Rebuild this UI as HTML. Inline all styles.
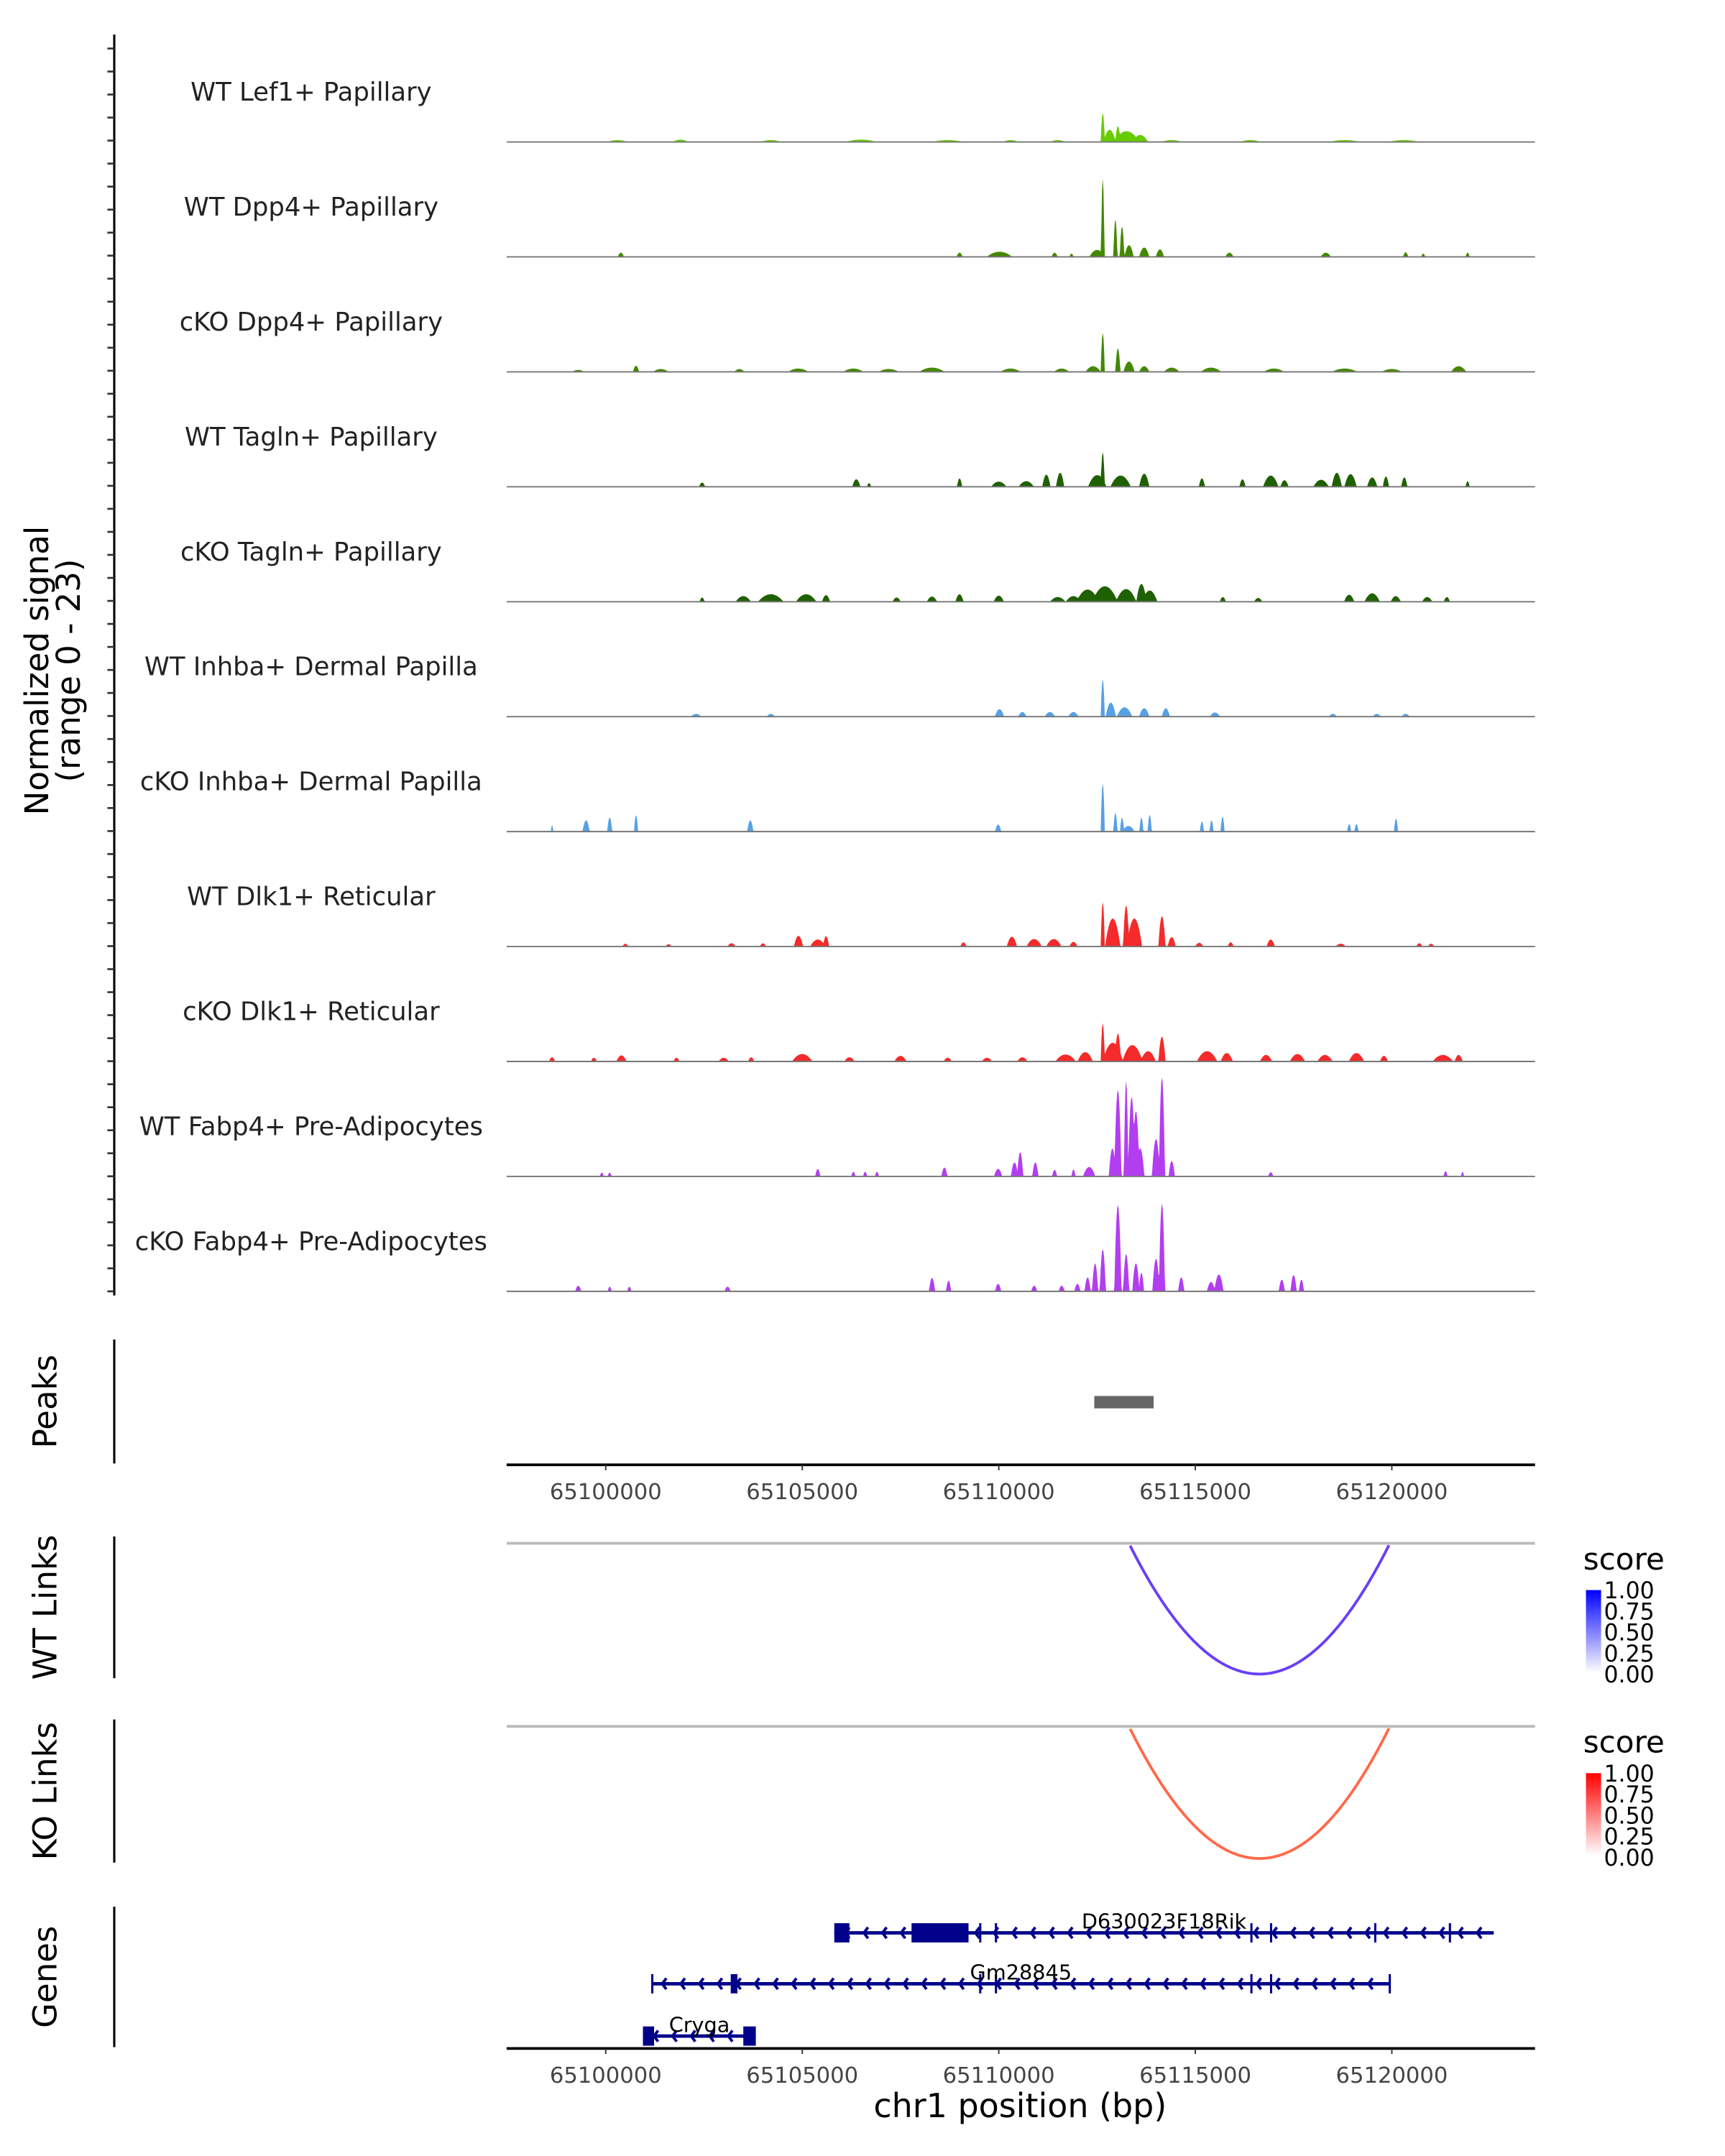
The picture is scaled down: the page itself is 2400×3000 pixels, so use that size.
<!DOCTYPE html>
<html><head><meta charset="utf-8">
<style>
html,body{margin:0;padding:0;background:#fff;}
svg{display:block;}
text{font-family:"DejaVu Sans","Liberation Sans",sans-serif;}
</style></head>
<body>
<svg id="chart" width="2400" height="3000" viewBox="0 0 1253 1566" xmlns="http://www.w3.org/2000/svg">
<g id="tracks"></g>
<g id="peaks"></g>
<g id="links"></g>
<g id="genes"></g>
</svg>
<script>
// ---------- data ----------
const trackNames = ["WT Lef1+ Papillary","WT Dpp4+ Papillary","cKO Dpp4+ Papillary","WT Tagln+ Papillary","cKO Tagln+ Papillary","WT Inhba+ Dermal Papilla","cKO Inhba+ Dermal Papilla","WT Dlk1+ Reticular","cKO Dlk1+ Reticular","WT Fabp4+ Pre-Adipocytes","cKO Fabp4+ Pre-Adipocytes"];
const trackColors = ["#66cc00","#448800","#448800","#1f6100","#1f6100","#56a0e6","#56a0e6","#f52a2a","#f52a2a","#b23ef0","#b23ef0"];
const axisTicks = [65100000,65105000,65110000,65115000,65120000];
const regionStart = 65097478, regionEnd = 65123643;
const signalMax = 23;
// peaks per track: [position bp, height (0-23), half-width bp]
const sig0 = [[65112645,6.2,40],[65112820,2.6,120],[65113030,3.4,50],[65113250,2.3,250],[65113600,1.5,150],[65100300,0.4,200],[65101900,0.5,150],[65104200,0.4,200],[65106500,0.5,300],[65108700,0.4,300],[65110300,0.4,150],[65111500,0.4,150],[65114400,0.4,200],[65116400,0.4,200],[65118800,0.4,300],[65120300,0.4,300]];
const sig1 = [[65112645,16.8,35],[65112967,8,40],[65113136,6.5,45],[65113314,2.5,90],[65113700,2,100],[65114100,1.6,80],[65112500,1.5,150],[65100385,0.9,60],[65109002,0.9,60],[65110018,1.1,250],[65111420,0.9,60],[65111850,0.7,40],[65115868,0.9,80],[65118320,0.9,100],[65120352,1,50],[65120800,0.7,40],[65121928,0.9,40]];
const sig2 = [[65112645,8.3,40],[65113030,5,50],[65113314,2.2,110],[65113700,1.2,100],[65112400,1.2,150],[65099300,0.4,120],[65100771,1.3,60],[65101400,0.6,150],[65103400,0.6,100],[65104900,0.7,200],[65106300,0.7,200],[65107200,0.6,200],[65108300,0.9,250],[65110300,0.7,200],[65111600,0.7,150],[65114400,0.9,150],[65115400,0.9,200],[65117000,0.7,200],[65118800,0.7,250],[65120000,0.6,200],[65121700,1.2,150]];
const sig3 = [[65112645,7.4,40],[65112505,2.5,180],[65113100,2.4,200],[65113700,2.8,100],[65102452,0.9,60],[65106375,1.6,80],[65106700,0.8,40],[65109002,1.8,50],[65110000,1.1,150],[65110700,1.2,150],[65111210,2.6,80],[65111560,3,80],[65115168,1.8,60],[65116200,1.6,60],[65116919,2.4,150],[65117269,1.4,80],[65118200,1.5,150],[65118600,3,100],[65118950,2.7,120],[65119500,2,100],[65119850,2.2,60],[65120317,2,60],[65121928,1.2,40]];
const sig4 = [[65112260,2.6,220],[65112700,3.3,250],[65113240,2.7,200],[65113629,3.8,100],[65113840,2.4,150],[65111900,1.2,150],[65111500,1,150],[65102452,0.9,50],[65103500,1.2,150],[65104200,1.6,250],[65105100,1.6,200],[65105605,1.4,80],[65107400,0.9,80],[65108300,1.1,100],[65109000,1.6,80],[65110000,1.3,100],[65115700,1,60],[65116600,0.8,80],[65118915,1.5,100],[65119500,1.8,150],[65120100,1.2,100],[65120900,1,100],[65121400,1,60]];
const sig5 = [[65112645,8,40],[65112850,3,100],[65113200,2,150],[65113700,1.8,100],[65114250,1.8,80],[65102300,0.6,100],[65104200,0.6,80],[65110018,1.6,90],[65110600,1,80],[65111300,1,100],[65111900,1,100],[65115500,0.9,100],[65118500,0.6,80],[65119617,0.6,80],[65120352,0.6,80]];
const sig6 = [[65112645,10.3,40],[65112967,4,40],[65113136,3,40],[65113629,3,40],[65113840,3.6,40],[65113300,1.2,120],[65115168,2.2,40],[65115413,2.4,40],[65115693,3.2,40],[65098634,1.5,20],[65099500,2.4,70],[65100100,3,50],[65100771,3.5,40],[65103678,2.4,60],[65109983,1.5,60],[65118915,1.6,40],[65119100,1.6,40],[65120107,2.8,40]];
const sig7 = [[65112645,9.5,40],[65112900,6,150],[65113240,8.8,60],[65113450,6,150],[65114151,6.5,70],[65114400,2,80],[65100500,0.6,60],[65101600,0.5,60],[65103200,0.7,80],[65104000,0.7,60],[65104904,2.3,90],[65105395,1.5,150],[65105605,2.2,60],[65109100,0.9,60],[65110334,2.1,100],[65110900,1.6,150],[65111400,1.6,150],[65111900,1,80],[65115100,0.8,80],[65115900,0.9,60],[65116919,1.5,80],[65118700,0.6,100],[65120700,0.7,60],[65121000,0.6,60]];
const sig8 = [[65112645,8.2,40],[65113030,6,60],[65112900,4,200],[65113400,3.5,200],[65114151,5.3,70],[65113800,2.2,150],[65112200,2,150],[65111700,1.5,200],[65115300,2.2,200],[65115800,1.8,120],[65098634,0.9,60],[65099700,0.8,60],[65100400,1.3,100],[65101800,0.8,60],[65103000,0.8,100],[65103700,0.9,60],[65105000,1.6,200],[65106200,0.9,100],[65107500,1.2,120],[65108700,0.8,80],[65109700,0.8,100],[65110600,0.9,100],[65116800,1.4,120],[65117600,1.6,150],[65118300,1.4,150],[65119100,1.8,150],[65119800,1.2,80],[65121300,1.4,200],[65121700,1.4,80]];
const sig9 = [[65112890,6,70],[65113030,18.5,70],[65113240,20.5,45],[65113380,17,70],[65113489,14,70],[65113600,6,80],[65114151,21.2,60],[65114000,8,80],[65114400,3.3,60],[65112300,2,120],[65110544,5.2,60],[65110400,3,70],[65110930,3,60],[65111900,1.5,40],[65099900,0.8,40],[65100100,0.8,40],[65105395,1.6,50],[65106300,1,40],[65106600,1,40],[65106900,1,40],[65108617,1.9,60],[65109983,1.6,80],[65111420,1.4,50],[65116919,0.9,50],[65121368,1.1,40],[65121800,1,30]];
const sig10 = [[65112260,3,60],[65112450,6,60],[65112645,9,60],[65113030,18.5,70],[65113240,8,60],[65113489,6,70],[65113629,4,50],[65114151,18.8,60],[65114000,7,70],[65114642,3,60],[65115600,3.6,90],[65115400,2,80],[65117200,2.5,60],[65117500,3.5,60],[65117700,2.5,50],[65099300,1.2,60],[65100100,1,40],[65100600,1,40],[65103100,1,60],[65108302,2.9,60],[65108722,2.3,50],[65109983,1.6,60],[65110900,1.2,60],[65111600,1.2,60],[65112000,1.6,60]];
const signals = [sig0,sig1,sig2,sig3,sig4,sig5,sig6,sig7,sig8,sig9,sig10];
const peakRegions = [[65112430,65113940]];
const wtLinks = [[65112430,65120830,0.75]];
const koLinks = [[65112430,65120830,0.6]];
const genesData = [
 {name:"D630023F18Rik", start:65105815, end:65122593, row:0, exons:[[65105815,65106200,1],[65107780,65109230,1],[65109500,65109560,0],[65109900,65109960,0],[65116400,65116460,0],[65116900,65116960,0],[65119550,65119600,0],[65121450,65121500,0]]},
 {name:"Gm28845", start:65101156, end:65119967, row:1, exons:[[65101156,65101200,0],[65103180,65103350,1],[65109500,65109560,0],[65109900,65109960,0],[65116400,65116460,0],[65116900,65116960,0],[65119920,65119967,0]]},
 {name:"Cryga", start:65100946, end:65103818, row:2, exons:[[65100946,65101230,1],[65103500,65103818,1]]}
];
// ---------- helpers ----------
const NS="http://www.w3.org/2000/svg";
const X0=368, X1=1115;
function xs(bp){return X0+(bp-regionStart)/(regionEnd-regionStart)*(X1-X0);}
function mk(tag,attrs,parent,txt){const e=document.createElementNS(NS,tag);for(const k in attrs)e.setAttribute(k,attrs[k]);if(txt!==undefined)e.textContent=txt;parent.appendChild(e);return e;}
const tg=document.getElementById('tracks');
let ax=mk('line',{x1:83,y1:25,x2:83,y2:941,stroke:'#000','stroke-width':1.6},tg);

for(let y=938;y>=30;y-=16.72){mk('line',{x1:78,y1:y,x2:83,y2:y,stroke:'#333','stroke-width':1.4},tg);}
let yt=mk('text',{x:0,y:0,'font-size':23.5,'text-anchor':'middle',transform:'translate(40,487) rotate(-90)',fill:'#000'},tg);

mk('tspan',{x:0,dy:-5},yt,'Normalized signal');mk('tspan',{x:0,dy:23},yt,'(range 0 - 23)');
const trackH=83.5, pxPerUnit=78/signalMax;
signals.forEach((pk,i)=>{
  const base=103+i*trackH;
  const g=mk('g',{},tg);
  
  const lab=mk('text',{x:226,y:base-30,'font-size':18.5,'text-anchor':'middle',fill:'#222'},g,trackNames[i]);
  
  let d='M'+X0+','+base;
  for(let x=X0;x<=X1;x+=0.5){
    const bp=regionStart+(x-X0)/(X1-X0)*(regionEnd-regionStart);
    let v=0;
    for(const p of pk){const w=(p[2]||60)*1.3;const dd=Math.abs(bp-p[0]);if(dd<w){const r=dd/w;const t=p[1]*(1-r*r);if(t>v)v=t;}}
    d+=' L'+x.toFixed(1)+','+(base-v*pxPerUnit).toFixed(2);
  }
  d+=' L'+X1+','+base+' Z';
  const ar=mk('path',{d:d,fill:trackColors[i],stroke:'none'},g);
  
  mk('line',{x1:X0,y1:base,x2:X1,y2:base,stroke:'#777','stroke-width':1},g);
});
function xAxis(parent,y,name){
  const g=mk('g',{},parent);
  mk('line',{x1:X0,y1:y,x2:X1,y2:y,stroke:'#000','stroke-width':2},g);
  axisTicks.forEach(t=>{const x=xs(t);mk('line',{x1:x,y1:y,x2:x,y2:y+4,stroke:'#333','stroke-width':1},g);
    const tl=mk('text',{x:x,y:y+25,'font-size':16,'text-anchor':'middle',fill:'#444'},g,String(t));
    });
}
function panelAxis(parent,y1,y2,label,name){
  mk('line',{x1:83,y1:y1,x2:83,y2:y2,stroke:'#000','stroke-width':1.6},parent);
  const t=mk('text',{x:0,y:0,'font-size':23.5,'text-anchor':'middle',transform:'translate(41,'+((y1+y2)/2)+') rotate(-90)',fill:'#000'},parent,label);
  
}
const pg=document.getElementById('peaks');
panelAxis(pg,973,1063,'Peaks','peaks-axis-title');
peakRegions.forEach(r=>{const b=mk('rect',{x:xs(r[0]),y:1014,width:xs(r[1])-xs(r[0]),height:9,fill:'#666'},pg);
  });
xAxis(pg,1064,'peaks-x-axis');
const lg=document.getElementById('links');
function linkPanel(top,bottom,label,links,hi,name,gid){
  const g=mk('g',{},lg);
  panelAxis(g,top-5,bottom,label,name+'-title');
  const base=top;
  mk('line',{x1:X0,y1:base,x2:X1,y2:base,stroke:'#bbb','stroke-width':2},g);
  links.forEach(l=>{
    const a=xs(l[0]),b=xs(l[1]);const depth=(bottom-3-base);
    let d='';
    for(let x=Math.max(a,X0);x<=b;x+=1){const u=(x-(a+b)/2)/((b-a)/2);let y=base+depth*(1-u*u)*1.6-depth*0.6;
      if(y<base) continue; d+=(d?' L':'M')+x.toFixed(1)+','+y.toFixed(2);}
    const c=mk('path',{d:d,fill:'none',stroke:hi==='blue'?'#6a3ef7':'#ff6a4a','stroke-width':2},g);
    
  });
  const defs=mk('defs',{},g);const gr=mk('linearGradient',{id:gid,x1:0,y1:1,x2:0,y2:0},defs);
  mk('stop',{offset:0,'stop-color':'#ffffff'},gr);mk('stop',{offset:1,'stop-color':hi==='blue'?'#0000ff':'#ff0000'},gr);
  const lt=mk('text',{x:1150,y:top+19,'font-size':22,fill:'#000'},g,'score');
  
  const cb=mk('rect',{x:1152,y:top+34,width:11,height:60,fill:'url(#'+gid+')'},g);
  
  ['1.00','0.75','0.50','0.25','0.00'].forEach((s,k)=>{mk('text',{x:1165,y:top+40+k*15.3,'font-size':16.5,fill:'#000'},g,s);});
}
linkPanel(1121,1219,'WT Links',wtLinks,'blue','wt-links','gradBlue');
linkPanel(1254,1353,'KO Links',koLinks,'red','ko-links','gradRed');
const gg=document.getElementById('genes');
panelAxis(gg,1385,1487,'Genes','genes-axis-title');
const rowY=[1404,1441,1479];
genesData.forEach(gn=>{
  const g=mk('g',{},gg);
  const y=rowY[gn.row];const a=xs(gn.start),b=xs(gn.end);
  mk('line',{x1:a,y1:y,x2:b,y2:y,stroke:'#00008b','stroke-width':2.5},g);
  for(let x=a+8;x<b-4;x+=13.5){mk('path',{d:'M'+(x+3)+','+(y-4)+' L'+x+','+y+' L'+(x+3)+','+(y+4),fill:'none',stroke:'#00008b','stroke-width':2},g);}
  gn.exons.forEach(e=>{const ea=xs(e[0]),eb=xs(e[1]);
    if(e[2]) mk('rect',{x:ea,y:y-7,width:Math.max(eb-ea,2),height:14,fill:'#00008b'},g);
    else mk('rect',{x:ea,y:y-7,width:1.6,height:14,fill:'#00008b'},g);});
  const lab=mk('text',{x:(a+b)/2,y:y-3,'font-size':15,'text-anchor':'middle',fill:'#000'},g,gn.name);
  
});
xAxis(gg,1488,'genes-x-axis');
const xt=mk('text',{x:741,y:1538,'font-size':24,'text-anchor':'middle',fill:'#000'},gg,'chr1 position (bp)');

</script>
</body></html>
